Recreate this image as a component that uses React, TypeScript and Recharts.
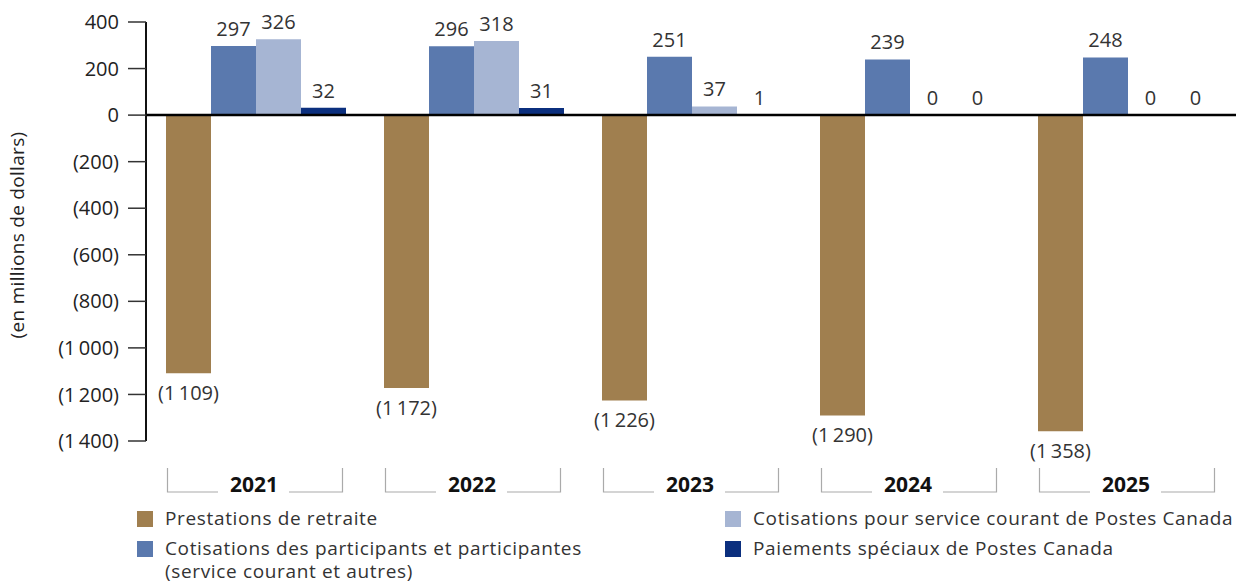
import React from 'react';
import { BarChart, Bar, XAxis, YAxis, ReferenceLine, LabelList, Label } from 'recharts';

const years = ['2021', '2022', '2023', '2024', '2025'];
const prestations = [-1109, -1172, -1226, -1290, -1358];
const cotisParticipants = [297, 296, 251, 239, 248];
const cotisPostes = [326, 318, 37, 0, 0];
const paiementsSpeciaux = [32, 31, 1, 0, 0];
const yTicks = [-1400, -1200, -1000, -800, -600, -400, -200, 0, 200, 400];

const COLORS = {
  prestations: '#A07F4F',
  participants: '#5A79AE',
  postes: '#A6B5D3',
  paiements: '#0B2F7E',
};

const FONT = '"Open Sans", "DejaVu Sans", sans-serif';

const data = years.map((year, i) => ({
  year,
  prestations: prestations[i],
  participants: cotisParticipants[i],
  postes: cotisPostes[i],
  paiements: paiementsSpeciaux[i],
}));

const fmt = (v: number) => {
  const abs = Math.abs(v);
  const s = abs >= 1000 ? `${Math.floor(abs / 1000)}\u2009${String(abs % 1000).padStart(3, '0')}` : String(abs);
  return v < 0 ? `(${s})` : s;
};

const ValueLabel = (props: any) => {
  const { x, y, width, height, value } = props;
  const top = Math.min(y, y + height);
  const bottom = Math.max(y, y + height);
  const cx = x + width / 2;
  const common = { textAnchor: 'middle' as const, fontSize: 20, fill: '#333', fontFamily: FONT };
  if (value < 0) {
    return (
      <text x={cx} y={bottom + 27} {...common}>
        {fmt(value)}
      </text>
    );
  }
  return (
    <text x={cx} y={top - 10} {...common}>
      {fmt(value)}
    </text>
  );
};

const YearTick = (props: any) => {
  const { x, y, payload } = props;
  const half = 87.5;
  const top = y + 27;
  const base = y + 51;
  return (
    <g>
      <polyline
        points={`${x - half},${top} ${x - half},${base} ${x - 37},${base}`}
        fill="none"
        stroke="#aaa"
        strokeWidth={1.2}
      />
      <polyline
        points={`${x + 34},${base} ${x + half},${base} ${x + half},${top}`}
        fill="none"
        stroke="#aaa"
        strokeWidth={1.2}
      />
      <text x={x - 1} y={y + 51} textAnchor="middle" fontSize={21} fontWeight={700} fill="#111" fontFamily={FONT}>
        {payload.value}
      </text>
    </g>
  );
};

const AxisTitle = () => (
  <text
    x={24}
    y={235}
    transform="rotate(-90 24 235)"
    textAnchor="middle"
    fontSize={19}
    fill="#222"
    fontFamily={FONT}
    letterSpacing={0.3}
  >
    (en millions de dollars)
  </text>
);

const legendItems = [
  { label: 'Prestations de retraite', color: COLORS.prestations, left: 137, top: 511 },
  { label: 'Cotisations des participants et participantes', sub: '(service courant et autres)', color: COLORS.participants, left: 137, top: 541 },
  { label: 'Cotisations pour service courant de Postes Canada', color: COLORS.postes, left: 725, top: 511 },
  { label: 'Paiements spéciaux de Postes Canada', color: COLORS.paiements, left: 725, top: 541 },
];

const legendText: React.CSSProperties = {
  fontSize: 19,
  letterSpacing: 0.65,
  color: '#333',
  lineHeight: '23px',
  whiteSpace: 'nowrap',
};

export default function App() {
  return (
    <div style={{ position: 'absolute', left: 0, top: 0, width: 1248, height: 585, background: '#fff', fontFamily: FONT }}>
      <BarChart
        width={1248}
        height={585}
        data={data}
        margin={{ top: 22, right: 12, bottom: 84, left: 0 }}
        barCategoryGap={20}
        barGap={0}
      >
        <XAxis
          dataKey="year"
          axisLine={false}
          tickLine={false}
          tickSize={0}
          tickMargin={0}
          height={60}
          interval={0}
          tick={<YearTick />}
        />
        <YAxis
          width={146}
          domain={[-1400, 400]}
          ticks={yTicks}
          interval={0}
          tickFormatter={fmt}
          axisLine={{ stroke: '#111', strokeWidth: 2 }}
          tickLine={{ stroke: '#333', strokeWidth: 1.5 }}
          tickSize={18}
          tickMargin={9}
          tick={{ fontSize: 20, fill: '#222', fontFamily: FONT }}
        >
          <Label content={<AxisTitle />} />
        </YAxis>
        <Bar dataKey="prestations" fill={COLORS.prestations} isAnimationActive={false}>
          <LabelList dataKey="prestations" content={<ValueLabel />} />
        </Bar>
        <Bar dataKey="participants" fill={COLORS.participants} isAnimationActive={false}>
          <LabelList dataKey="participants" content={<ValueLabel />} />
        </Bar>
        <Bar dataKey="postes" fill={COLORS.postes} minPointSize={0.3} isAnimationActive={false}>
          <LabelList dataKey="postes" content={<ValueLabel />} />
        </Bar>
        <Bar dataKey="paiements" fill={COLORS.paiements} minPointSize={0.3} isAnimationActive={false}>
          <LabelList dataKey="paiements" content={<ValueLabel />} />
        </Bar>
        <ReferenceLine y={0} stroke="#000" strokeWidth={2.5} />
      </BarChart>
      {legendItems.map((item) => (
        <React.Fragment key={item.label}>
          <div style={{ position: 'absolute', left: item.left, top: item.top, width: 16, height: 16, background: item.color }} />
          <div style={{ ...legendText, position: 'absolute', left: item.left + 28, top: item.top - 4 }}>
            {item.label}
            {item.sub && <br />}
            {item.sub}
          </div>
        </React.Fragment>
      ))}
    </div>
  );
}
